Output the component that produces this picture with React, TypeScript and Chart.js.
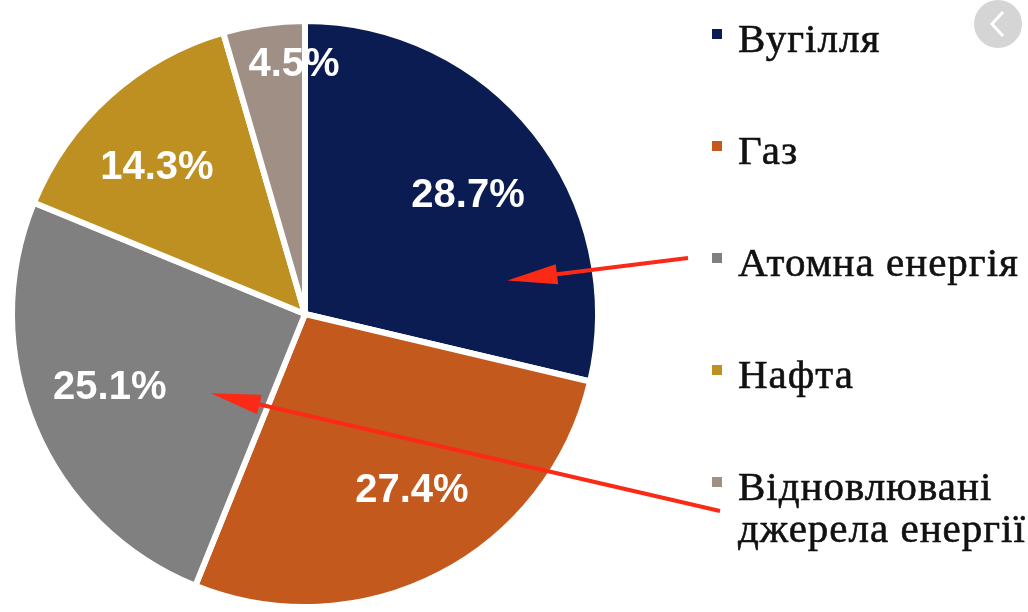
import React, { useEffect, useRef } from 'react';
import { Chart, registerables } from 'chart.js';

Chart.register(...registerables);

// ---- data ----
const categories = ['Вугілля', 'Газ', 'Атомна енергія', 'Нафта', 'Відновлювані джерела енергії'];
const legendLines = [['Вугілля'], ['Газ'], ['Атомна енергія'], ['Нафта'], ['Відновлювані', 'джерела енергії']];
const shares = [28.7, 27.4, 25.1, 14.3, 4.5];
const valueLabels = ['28.7%', '27.4%', '25.1%', '14.3%', '4.5%'];
const colors = ['#0b1c52', '#c4591d', '#808080', '#be9022', '#a08f84'];

// arrows: from legend item -> into slice
const arrowFromItem = [2, 4];
const arrowToSlice = [0, 2];

// ---- style ----
const labelRadius = [0.689, 0.703, 0.711, 0.712, 0.854];
const labelAngleShiftDeg = [2.2, -3.9, 2.4, -3.3, 5.6];
const arrowTip = [
  { frac: 0.78, r: 0.7 },
  { frac: 0.31, r: 0.42 },
];
const arrowTail = [
  { dx: -24, dy: 0 },
  { dx: 8, dy: 29 },
];
const legendX = 712;
const legendTextX = 738;
const legendBase0 = 52;
const legendStep = 112;
const legendLineH = 42;
const markerSize = 10;

const overlay = {
  id: 'overlay',
  afterDatasetsDraw(chart: any) {
    const ctx = chart.ctx as any;
    const meta = chart.getDatasetMeta(0);
    const arcs = meta.data as any[];
    ctx.save();
    // value labels
    ctx.fillStyle = '#ffffff';
    ctx.font = 'bold 40px "Liberation Sans", Arial, sans-serif';
    ctx.textAlign = 'center';
    ctx.textBaseline = 'middle';
    arcs.forEach((arc, i) => {
      const p = arc.getProps(['x', 'y', 'startAngle', 'endAngle', 'outerRadius'], true);
      const mid = (p.startAngle + p.endAngle) / 2 + (labelAngleShiftDeg[i] * Math.PI) / 180;
      const r = p.outerRadius * labelRadius[i];
      ctx.fillText(valueLabels[i], p.x + Math.cos(mid) * r, p.y + Math.sin(mid) * r + 1);
    });

    // legend
    ctx.textAlign = 'left';
    ctx.textBaseline = 'alphabetic';
    ctx.font = '41px "Liberation Serif", "Times New Roman", serif';
    ctx.letterSpacing = '1px';
    ctx.lineWidth = 0.6;
    legendLines.forEach((lines, i) => {
      const base = legendBase0 + i * legendStep;
      ctx.fillStyle = colors[i];
      ctx.fillRect(legendX, base - 23, markerSize, markerSize);
      ctx.fillStyle = '#111111';
      ctx.strokeStyle = '#111111';
      lines.forEach((ln, j) => {
        ctx.fillText(ln, legendTextX, base + j * legendLineH);
        ctx.strokeText(ln, legendTextX, base + j * legendLineH);
      });
    });
    ctx.letterSpacing = '0px';

    // arrows
    ctx.strokeStyle = '#fb2a16';
    ctx.fillStyle = '#fb2a16';
    ctx.lineWidth = 4;
    arrowFromItem.forEach((item, k) => {
      const arc = arcs[arrowToSlice[k]];
      const p = arc.getProps(['x', 'y', 'startAngle', 'endAngle', 'outerRadius'], true);
      const ang = p.startAngle + (p.endAngle - p.startAngle) * arrowTip[k].frac;
      const tx = p.x + Math.cos(ang) * p.outerRadius * arrowTip[k].r;
      const ty = p.y + Math.sin(ang) * p.outerRadius * arrowTip[k].r;
      const sx = legendX + arrowTail[k].dx;
      const sy = legendBase0 + item * legendStep - 23 + markerSize / 2 + arrowTail[k].dy;
      const a = Math.atan2(ty - sy, tx - sx);
      const headLen = 50;
      const headW = 10;
      const bx = tx - Math.cos(a) * headLen;
      const by = ty - Math.sin(a) * headLen;
      ctx.beginPath();
      ctx.moveTo(sx, sy);
      ctx.lineTo(bx + Math.cos(a) * 4, by + Math.sin(a) * 4);
      ctx.stroke();
      ctx.beginPath();
      ctx.moveTo(tx, ty);
      ctx.lineTo(bx - Math.sin(a) * headW, by + Math.cos(a) * headW);
      ctx.lineTo(bx + Math.sin(a) * headW, by - Math.cos(a) * headW);
      ctx.closePath();
      ctx.fill();
    });

    // grey circular nav button (top right)
    ctx.fillStyle = '#d5d5d5';
    ctx.beginPath();
    ctx.arc(998, 24, 24, 0, Math.PI * 2);
    ctx.fill();
    ctx.strokeStyle = '#ffffff';
    ctx.lineWidth = 3;
    ctx.beginPath();
    ctx.moveTo(1003, 12);
    ctx.lineTo(992, 24);
    ctx.lineTo(1003, 36);
    ctx.stroke();
    ctx.restore();
  },
};

export default function App() {
  const ref = useRef<HTMLCanvasElement | null>(null);
  useEffect(() => {
    if (!ref.current) return;
    const chart = new Chart(ref.current, {
      type: 'pie',
      data: {
        labels: categories,
        datasets: [
          {
            data: shares,
            backgroundColor: colors,
            borderColor: '#ffffff',
            borderWidth: 6,
          },
        ],
      },
      options: {
        responsive: false,
        animation: false,
        devicePixelRatio: 1,
        layout: { padding: { left: 9, top: 18, right: 427, bottom: 2 } },
        plugins: {
          legend: { display: false },
          tooltip: { enabled: false },
        },
      },
      plugins: [overlay],
    });
    return () => chart.destroy();
  }, []);
  return (
    <div style={{ position: 'fixed', left: 0, top: 0, width: 1028, height: 612, background: '#fff' }}>
      <canvas ref={ref} width={1028} height={612} style={{ display: 'block' }} />
    </div>
  );
}
